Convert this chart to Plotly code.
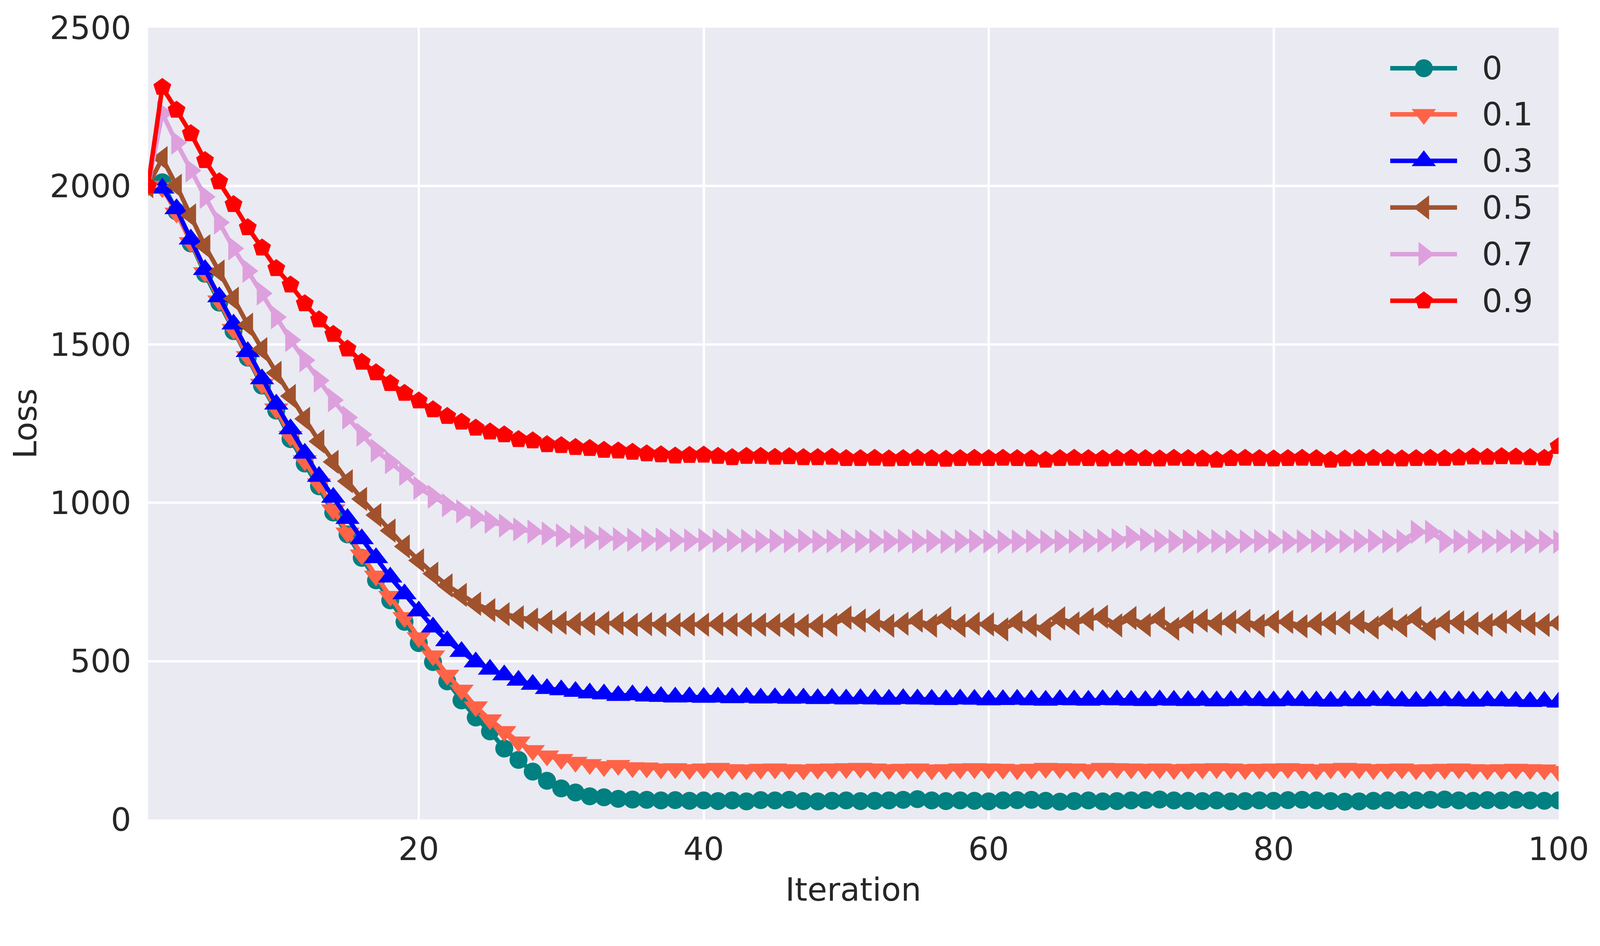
import plotly.graph_objects as go

iterations = list(range(1, 101))
labels = ["0", "0.1", "0.3", "0.5", "0.7", "0.9"]
colors = ["#008080", "#FF6347", "#0000FF", "#A0522D", "#DDA0DD", "#FF0000"]
symbols = ["circle", "triangle-down", "triangle-up", "triangle-left", "triangle-right", "pentagon"]
msizes = [46, 54, 54, 54, 54, 48]

loss_0 = [2000, 2012, 1920, 1819, 1723, 1632, 1542, 1458, 1370, 1291,
          1201, 1124, 1052, 969, 900, 826, 755, 692, 624, 557,
          497, 436, 376, 322, 278, 224, 188, 151, 122, 98,
          85, 73, 70, 65, 63, 62, 60, 61, 59, 60,
          58, 60, 57, 61, 60, 62, 58, 57, 59, 60,
          58, 59, 60, 62, 64, 60, 58, 60, 59, 57,
          60, 61, 62, 59, 56, 58, 60, 57, 58, 60,
          61, 63, 60, 59, 58, 60, 57, 58, 60, 59,
          61, 62, 60, 58, 56, 57, 59, 60, 61, 60,
          62, 63, 60, 59, 61, 60, 62, 60, 59, 60]

loss_01 = [2000, 1995, 1915, 1822, 1727, 1638, 1548, 1462, 1375, 1297,
           1210, 1133, 1060, 978, 905, 836, 769, 705, 638, 574,
           517, 456, 409, 356, 315, 278, 245, 218, 201, 190,
           181, 174, 167, 171, 164, 163, 160, 161, 158, 160,
           162, 158, 157, 159, 160, 158, 157, 159, 160, 161,
           162, 160, 158, 159, 160, 157, 158, 160, 161, 160,
           159, 157, 159, 162, 161, 160, 158, 162, 161, 160,
           159, 160, 158, 159, 160, 161, 160, 158, 159, 160,
           161, 159, 157, 160, 162, 160, 158, 159, 160, 157,
           158, 159, 160, 158, 157, 158, 159, 158, 157, 152]

loss_03 = [2000, 1993, 1928, 1832, 1736, 1650, 1564, 1477, 1391, 1311,
           1233, 1156, 1083, 1017, 950, 886, 826, 765, 712, 658,
           607, 564, 530, 497, 474, 456, 439, 426, 413, 409,
           404, 399, 396, 391, 393, 389, 388, 386, 387, 385,
           386, 384, 385, 383, 384, 382, 383, 381, 382, 380,
           381, 380, 379, 381, 380, 379, 378, 380, 379, 377,
           378, 379, 377, 376, 378, 377, 376, 378, 377, 376,
           375, 377, 376, 375, 376, 374, 375, 376, 375, 374,
           376, 375, 374, 373, 375, 374, 376, 375, 374, 373,
           374, 375, 374, 373, 375, 374, 373, 372, 373, 370]

loss_05 = [2000, 2088, 2001, 1907, 1810, 1730, 1644, 1562, 1485, 1410,
           1337, 1265, 1194, 1129, 1068, 1012, 961, 912, 862, 818,
           776, 739, 709, 681, 661, 648, 638, 631, 624, 621,
           618, 618, 621, 619, 615, 617, 615, 615, 616, 615,
           617, 615, 615, 615, 614, 615, 612, 612, 615, 637,
           628, 628, 612, 618, 628, 612, 635, 612, 618, 616,
           600, 624, 613, 602, 635, 619, 632, 640, 613, 636,
           614, 635, 602, 624, 628, 618, 624, 627, 612, 624,
           624, 610, 618, 620, 622, 624, 606, 632, 612, 636,
           602, 624, 622, 619, 614, 624, 627, 618, 614, 620]

loss_07 = [2000, 2230, 2137, 2049, 1966, 1885, 1803, 1732, 1661, 1586,
           1514, 1450, 1386, 1324, 1269, 1215, 1165, 1128, 1091, 1047,
           1019, 992, 973, 955, 940, 928, 916, 909, 903, 897,
           894, 891, 888, 885, 883, 882, 884, 882, 881, 882,
           880, 881, 880, 879, 880, 879, 880, 878, 879, 880,
           878, 879, 878, 880, 878, 879, 877, 878, 879, 878,
           877, 878, 879, 877, 878, 878, 879, 880, 882, 892,
           884, 880, 878, 879, 878, 879, 877, 878, 879, 878,
           877, 878, 879, 878, 878, 879, 880, 878, 879, 908,
           908, 878, 879, 877, 878, 879, 878, 877, 878, 877]

loss_09 = [2000, 2312, 2240, 2166, 2081, 2014, 1942, 1869, 1805, 1740,
           1688, 1629, 1578, 1532, 1486, 1444, 1411, 1377, 1346, 1322,
           1294, 1273, 1255, 1236, 1224, 1215, 1200, 1196, 1184, 1181,
           1175, 1172, 1166, 1164, 1160, 1155, 1152, 1148, 1150, 1151,
           1147, 1143, 1147, 1147, 1144, 1146, 1143, 1143, 1144, 1140,
           1140, 1141, 1139, 1140, 1141, 1140, 1138, 1140, 1141, 1140,
           1141, 1140, 1139, 1135, 1140, 1141, 1140, 1139, 1140, 1141,
           1140, 1139, 1141, 1140, 1139, 1135, 1140, 1141, 1140, 1139,
           1140, 1141, 1140, 1135, 1139, 1140, 1141, 1140, 1139, 1140,
           1141, 1140, 1142, 1145, 1144, 1146, 1145, 1143, 1141, 1178]

series = [loss_0, loss_01, loss_03, loss_05, loss_07, loss_09]

W, H = 4080, 2336
L, T = 371, 63
PR, PB = 3982, 2090          # plot right / bottom in figure px
R, B = W - PR, H - PB
FONT = "DejaVu Sans"
TXT = "#262626"
FS = 82
LW = 11.5

fig = go.Figure()
for lab, col, sym, ms, ys in zip(labels, colors, symbols, msizes, series):
    fig.add_trace(go.Scatter(
        x=iterations, y=ys, name=lab, mode="lines+markers",
        line=dict(color=col, width=LW),
        marker=dict(symbol=sym, size=ms, color=col, line=dict(width=0)),
        showlegend=False, cliponaxis=True,
    ))

# custom legend (matplotlib-like long line samples) on an overlay axis in [0,1]
pw = PR - L
ph = PB - T
def px2x(px):
    return (px - L) / pw
def py2y(py):
    return (PB - py) / ph

row_px = [166.8, 284.8, 403.8, 523.2, 642.7, 762.1]
lx0, lxm, lx1 = px2x(3551), px2x(3637), px2x(3722)
for lab, col, sym, ms, rp in zip(labels, colors, symbols, msizes, row_px):
    yy = py2y(rp)
    fig.add_trace(go.Scatter(
        x=[lx0, lx1], y=[yy, yy], mode="lines", xaxis="x2", yaxis="y2",
        line=dict(color=col, width=LW), showlegend=False, hoverinfo="skip"))
    fig.add_trace(go.Scatter(
        x=[lxm], y=[yy], mode="markers", xaxis="x2", yaxis="y2",
        marker=dict(symbol=sym, size=ms, color=col, line=dict(width=0)),
        showlegend=False, hoverinfo="skip"))
    fig.add_annotation(x=px2x(3784), y=yy, xref="paper", yref="paper",
                       text=lab, showarrow=False, xanchor="left", yanchor="middle",
                       font=dict(family=FONT, size=FS, color=TXT))

fig.update_layout(
    width=W, height=H,
    margin=dict(l=L, r=R, t=T, b=B, pad=0),
    paper_bgcolor="white", plot_bgcolor="#EAEAF2",
    font=dict(family=FONT, size=FS, color=TXT),
    showlegend=False,
    xaxis=dict(range=[1, 100], tickvals=[20, 40, 60, 80, 100],
               showgrid=True, gridcolor="white", gridwidth=5.8,
               zeroline=False, showline=False, ticks="",
               ticklabelstandoff=21,
               tickfont=dict(family=FONT, size=FS, color=TXT),
               title=dict(text="Iteration", standoff=28,
                          font=dict(family=FONT, size=FS, color=TXT))),
    yaxis=dict(range=[0, 2500], tickvals=[0, 500, 1000, 1500, 2000, 2500],
               showgrid=True, gridcolor="white", gridwidth=5.8,
               zeroline=False, showline=False, ticks="",
               ticklabelstandoff=42,
               tickfont=dict(family=FONT, size=FS, color=TXT),
               title=dict(text="Loss", standoff=6,
                          font=dict(family=FONT, size=FS, color=TXT))),
    xaxis2=dict(overlaying="x", range=[0, 1], visible=False, fixedrange=True),
    yaxis2=dict(overlaying="y", range=[0, 1], visible=False, fixedrange=True),
)

fig.write_html("out.html")
